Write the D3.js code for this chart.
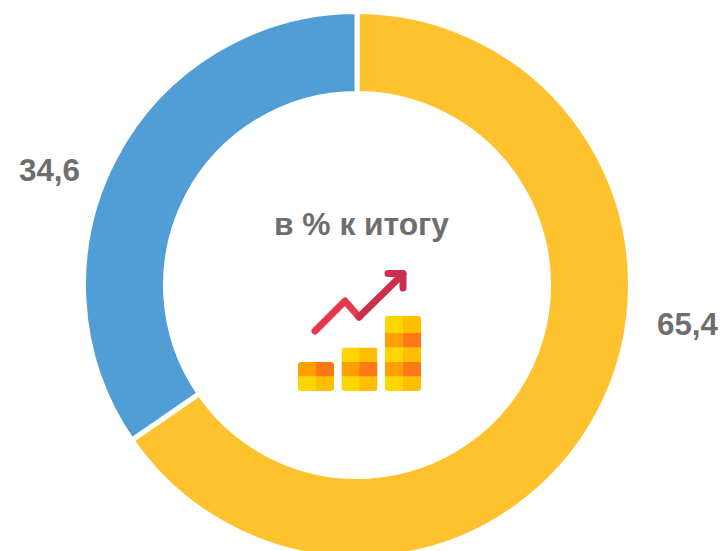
<!DOCTYPE html>
<html>

<head>
    <meta charset="utf-8">
    <title>в % к итогу</title>
    <script src="https://d3js.org/d3.v7.min.js"></script>
    <style>
        html, body { margin: 0; padding: 0; background: #fff; overflow: hidden; }
        svg { display: block; }
        text { font-family: "Liberation Sans", Arial, sans-serif; font-weight: bold; fill: #6e6e6e; }
    </style>
</head>

<body>
    <svg id="chart"></svg>

    <script>
        // data
        var categories = ['a', 'b'];
        var values = [65.4, 34.6];
        var labels = ['65,4', '34,6'];
        var colors = ['#fec22e', '#519ed7'];
        var title = 'в % к итогу';

        // icon stacks: rows of each little column, top to bottom
        var stacks = [
            ['o', 'y'],
            ['y', 'o', 'y'],
            ['y', 'o', 'y', 'o', 'y']
        ];

        var width = 723, height = 551;
        // radii include the 2.5px the white stroke eats on each edge
        var cx = 357, cy = 285, outer = 273.5, inner = 191.5;

        var svg = d3.select('#chart')
            .attr('width', width)
            .attr('height', height);

        var pie = d3.pie().sort(null).value(d => d)(values);
        var arc = d3.arc().innerRadius(inner).outerRadius(outer);

        var g = svg.append('g')
            .attr('transform', 'translate(' + cx + ',' + cy + ')');

        g.selectAll('path')
            .data(pie)
            .enter().append('path')
            .attr('d', arc)
            .attr('fill', (d, i) => colors[i])
            .attr('stroke', '#fff')
            .attr('stroke-width', 5);

        // value labels
        var labelPos = [[657, 335], [19, 181]];
        svg.selectAll('.val')
            .data(labels)
            .enter().append('text')
            .attr('class', 'val')
            .attr('x', (d, i) => labelPos[i][0])
            .attr('y', (d, i) => labelPos[i][1])
            .attr('font-size', 31)
            .attr('textLength', 61)
            .attr('lengthAdjust', 'spacingAndGlyphs')
            .text(d => d);

        svg.append('text')
            .attr('x', 274)
            .attr('y', 235)
            .attr('font-size', 31)
            .attr('textLength', 175)
            .attr('lengthAdjust', 'spacingAndGlyphs')
            .text(title);

        // icon
        var icon = svg.append('g');
        var defs = svg.append('defs');
        var colX = [298, 341.5, 385], colW = 36, rowH = 14.5, bottom = 391;
        var rowFill = { y: ['#ffd500', '#ffbe00'], o: ['#ff9f00', '#ff7816'] };

        stacks.forEach(function(rows, s) {
            var x0 = colX[s];
            // tall column has a slightly taller top row
            var top = s === 2 ? 316 : bottom - rows.length * rowH;
            defs.append('clipPath').attr('id', 'clip' + s)
                .append('rect')
                .attr('x', x0).attr('y', top)
                .attr('width', colW).attr('height', bottom - top)
                .attr('rx', 3);
            var col = icon.append('g').attr('clip-path', 'url(#clip' + s + ')');
            rows.forEach(function(r, i) {
                var y1 = bottom - (rows.length - i) * rowH;
                var y0 = i === 0 ? top : y1;
                var h = bottom - (rows.length - i - 1) * rowH - y0;
                col.append('rect').attr('x', x0).attr('y', y0)
                    .attr('width', colW / 2 + 0.5).attr('height', h + 0.3).attr('fill', rowFill[r][0]);
                col.append('rect').attr('x', x0 + colW / 2).attr('y', y0)
                    .attr('width', colW / 2).attr('height', h + 0.3).attr('fill', rowFill[r][1]);
            });
        });

        // arrow
        var line = d3.line();
        icon.append('path')
            .attr('d', line([[315, 331], [345, 301], [359, 317]]))
            .attr('fill', 'none').attr('stroke', '#e63950')
            .attr('stroke-width', 7).attr('stroke-linecap', 'round').attr('stroke-linejoin', 'round');
        icon.append('path')
            .attr('d', line([[359, 317], [403, 274]]))
            .attr('fill', 'none').attr('stroke', '#cc2e4e')
            .attr('stroke-width', 7).attr('stroke-linecap', 'round');
        icon.append('path')
            .attr('d', line([[388, 273.5], [403, 273.5], [403, 288]]))
            .attr('fill', 'none').attr('stroke', '#cc2e4e')
            .attr('stroke-width', 7).attr('stroke-linecap', 'round').attr('stroke-linejoin', 'round');
    </script>
</body>

</html>
